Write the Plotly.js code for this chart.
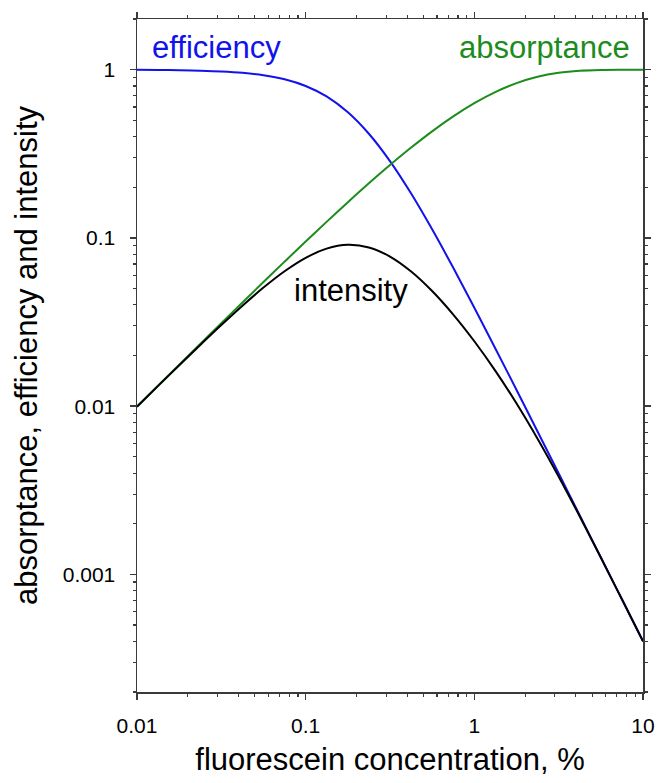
<!DOCTYPE html>
<html>
<head>
<meta charset="utf-8">
<script src="https://cdn.plot.ly/plotly-3.0.1.min.js"></script>
<style>html,body{margin:0;padding:0;background:#fff;}#chart{width:666px;height:783px;}</style>
</head>
<body>
<div id="chart"></div>
<script>
// fluorescein concentration, %
const concentration = [0.01, 0.0133, 0.0178, 0.0237, 0.0316, 0.0422, 0.0562, 0.075, 0.1, 0.133, 0.178, 0.237, 0.316, 0.422, 0.562, 0.75, 1, 1.33, 1.78, 2.37, 3.16, 4.22, 5.62, 7.5, 10];
const absorptance = [0.00995, 0.01321, 0.01764, 0.02342, 0.03111, 0.04132, 0.05465, 0.07226, 0.09516, 0.12454, 0.16306, 0.21105, 0.27093, 0.34425, 0.42993, 0.52763, 0.63212, 0.73552, 0.83136, 0.90651, 0.9576, 0.9853, 0.99638, 0.99945, 0.99995];
const efficiency = [0.99751, 0.9956, 0.99214, 0.98616, 0.97565, 0.95738, 0.92682, 0.87671, 0.8, 0.69337, 0.558, 0.41594, 0.28601, 0.18342, 0.11241, 0.06639, 0.03846, 0.02211, 0.01247, 0.00707, 0.00399, 0.002241, 0.001265, 0.000711, 0.0004];
const intensity = [0.009925, 0.013152, 0.017501, 0.023096, 0.030352, 0.039559, 0.050651, 0.063351, 0.076128, 0.086351, 0.090987, 0.087784, 0.077489, 0.063142, 0.048329, 0.035029, 0.024311, 0.016262, 0.010367, 0.006409, 0.003821, 0.002208, 0.00126, 0.000711, 0.0004];

const xTickVals = [0.01, 0.1, 1, 10];
const xTickText = ['0.01', '0.1', '1', '10'];
const yTickVals = [0.001, 0.01, 0.1, 1];
const yTickText = ['0.001', '0.01', '0.1', '1'];

function minorTicks(lo, hi) {
  const out = [];
  for (let e = lo; e < hi; e++) {
    for (let m = 2; m <= 9; m++) out.push(m * Math.pow(10, e));
  }
  return out;
}

const FONT = '"Liberation Sans", Arial, sans-serif';
const BLUE = 'rgb(18,18,235)';
const GREEN = 'rgb(28,140,28)';
const AXC = '#3a3a3a';
const X_RANGE = [-2, 1];
const Y_RANGE = [Math.log10(0.0002), Math.log10(2)];

const traces = [
  {x: concentration, y: efficiency, mode: 'lines', name: 'efficiency', line: {color: BLUE, width: 2, shape: 'spline'}},
  {x: concentration, y: absorptance, mode: 'lines', name: 'absorptance', line: {color: GREEN, width: 2, shape: 'spline'}},
  {x: concentration, y: intensity, mode: 'lines', name: 'intensity', line: {color: '#000', width: 2, shape: 'spline'}},
  {x: [], y: [], xaxis: 'x2', yaxis: 'y2', mode: 'lines', hoverinfo: 'skip', showlegend: false}
];

const axisCommon = {
  type: 'log', showgrid: false, zeroline: false,
  showline: true, linecolor: AXC, linewidth: 1.5,
  ticks: 'outside', ticklen: 6, tickwidth: 1.5, tickcolor: AXC,
  tickmode: 'array', tickfont: {family: FONT, size: 21, color: '#000'}
};
const minorX = {tickmode: 'array', tickvals: minorTicks(-2, 1), ticks: 'outside', ticklen: 3, tickwidth: 1.2, tickcolor: AXC};
const minorY = {tickmode: 'array', tickvals: minorTicks(-4, 1), ticks: 'outside', ticklen: 3, tickwidth: 1.2, tickcolor: AXC};

const layout = {
  width: 666, height: 783,
  margin: {l: 137, r: 23, t: 19, b: 91},
  paper_bgcolor: '#fff', plot_bgcolor: '#fff',
  showlegend: false,
  font: {family: FONT, color: '#000'},
  xaxis: Object.assign({}, axisCommon, {
    range: X_RANGE,
    tickvals: xTickVals, ticktext: xTickText,
    ticklabelstandoff: 8,
    minor: minorX,
    title: {text: 'fluorescein concentration, %', font: {family: FONT, size: 31, color: '#000'}, standoff: 12}
  }),
  yaxis: Object.assign({}, axisCommon, {
    range: Y_RANGE,
    tickvals: yTickVals, ticktext: yTickText,
    ticklabelstandoff: 10,
    minor: minorY,
    title: {text: 'absorptance, efficiency and intensity', font: {family: FONT, size: 31, color: '#000'}, standoff: 16}
  }),
  xaxis2: Object.assign({}, axisCommon, {
    range: X_RANGE, overlaying: 'x', side: 'top', anchor: 'y2',
    tickvals: xTickVals, showticklabels: false, minor: minorX
  }),
  yaxis2: Object.assign({}, axisCommon, {
    range: Y_RANGE, overlaying: 'y', side: 'right', anchor: 'x2',
    tickvals: yTickVals, showticklabels: false, minor: minorY
  }),
  annotations: [
    {xref: 'paper', yref: 'paper', x: 0.0257, y: 0.958, xanchor: 'left', yanchor: 'middle', text: 'efficiency', showarrow: false, font: {family: FONT, size: 31, color: BLUE}},
    {xref: 'paper', yref: 'paper', x: 0.978, y: 0.958, xanchor: 'right', yanchor: 'middle', text: 'absorptance', showarrow: false, font: {family: FONT, size: 31, color: GREEN}},
    {xref: 'paper', yref: 'paper', x: 0.422, y: 0.597, xanchor: 'center', yanchor: 'middle', text: 'intensity', showarrow: false, font: {family: FONT, size: 31, color: '#000'}}
  ]
};

Plotly.newPlot('chart', traces, layout, {staticPlot: true, displayModeBar: false});
</script>
</body>
</html>
